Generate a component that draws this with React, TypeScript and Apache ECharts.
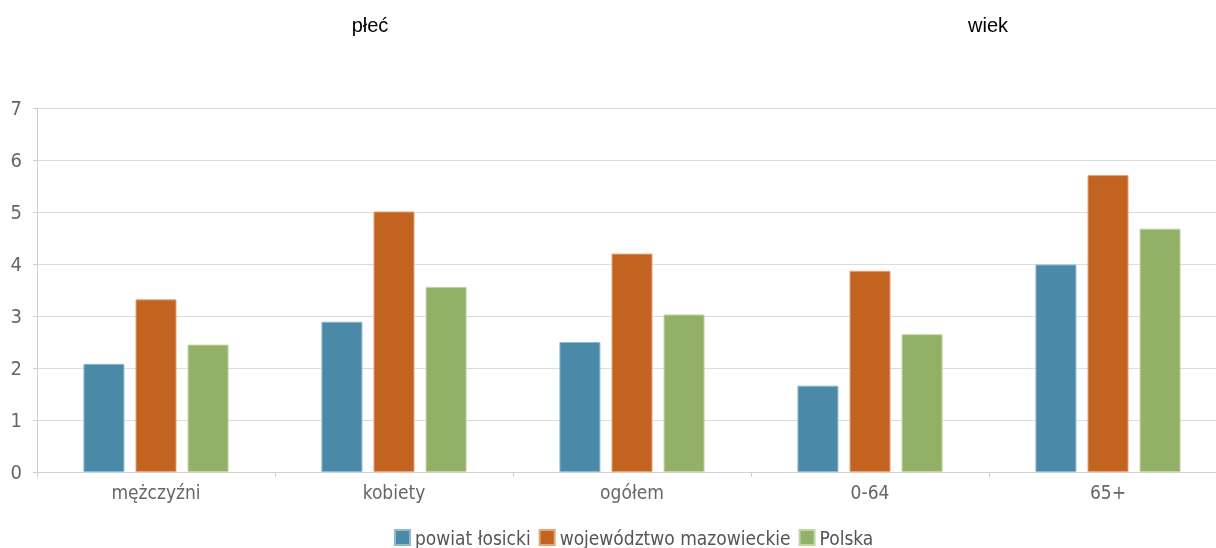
import React, { useEffect, useRef } from "react";
import * as echarts from "echarts";

const categories = ["mężczyźni", "kobiety", "ogółem", "0-64", "65+"];
const seriesNames = ["powiat łosicki", "województwo mazowieckie", "Polska"];
const powiat = [2.08, 2.89, 2.5, 1.66, 3.99];
const wojewodztwo = [3.32, 5.01, 4.2, 3.87, 5.71];
const polska = [2.45, 3.56, 3.03, 2.65, 4.68];
const colors = ["#4a89a7", "#c2631f", "#93b067"];
const borders = ["#8fb9cd", "#e3a57c", "#c1d6a4"];
const groupTitles = ["płeć", "wiek"];

export default function App() {
  const ref = useRef<HTMLDivElement>(null);
  useEffect(() => {
    const chart = echarts.init(ref.current!, null, { renderer: "svg" });
    const values = [powiat, wojewodztwo, polska];
    const labelFont = "'DejaVu Sans Condensed', 'Liberation Sans Narrow', 'DejaVu Sans', sans-serif";
    chart.setOption({
      animation: false,
      grid: { left: 37, width: 1190, top: 108, bottom: 76, containLabel: false, outerBoundsMode: "none" },
      legend: {
        bottom: 1,
        left: 394,
        padding: 0,
        itemWidth: 15,
        itemHeight: 15,
        itemGap: 8,
        icon: "rect",
        textStyle: { color: "#555", fontSize: 19, fontFamily: labelFont },
        data: seriesNames,
      },
      xAxis: {
        type: "category",
        data: categories,
        axisLine: { lineStyle: { color: "#cfcfcf" } },
        axisTick: { show: true, length: 5, lineStyle: { color: "#cfcfcf" } },
        axisLabel: { color: "#666", fontSize: 19, fontFamily: labelFont, margin: 10 },
      },
      yAxis: {
        type: "value",
        min: 0,
        max: 7,
        interval: 1,
        axisLine: { show: true, lineStyle: { color: "#cfcfcf" } },
        axisTick: { show: true, length: 4, lineStyle: { color: "#cfcfcf" } },
        splitLine: { lineStyle: { color: "#dcdcdc" } },
        axisLabel: { color: "#666", fontSize: 20, fontFamily: labelFont, margin: 15 },
      },
      graphic: [
        { type: "text", x: 370, y: 25, style: { text: groupTitles[0], fill: "#000", font: "20px 'Liberation Sans', Arial, sans-serif", textAlign: "center", textVerticalAlign: "middle" } },
        { type: "text", x: 988, y: 25, style: { text: groupTitles[1], fill: "#000", font: "20px 'Liberation Sans', Arial, sans-serif", textAlign: "center", textVerticalAlign: "middle" } },
      ],
      series: seriesNames.map((name, i) => ({
        name,
        type: "bar",
        data: values[i],
        barWidth: 41,
        barGap: "27%",
        itemStyle: { color: colors[i], borderColor: borders[i], borderWidth: 1 },
      })),
    });
    return () => chart.dispose();
  }, []);
  return <div ref={ref} style={{ position: "fixed", left: 0, top: 0, width: 1216, height: 548 }} />;
}
